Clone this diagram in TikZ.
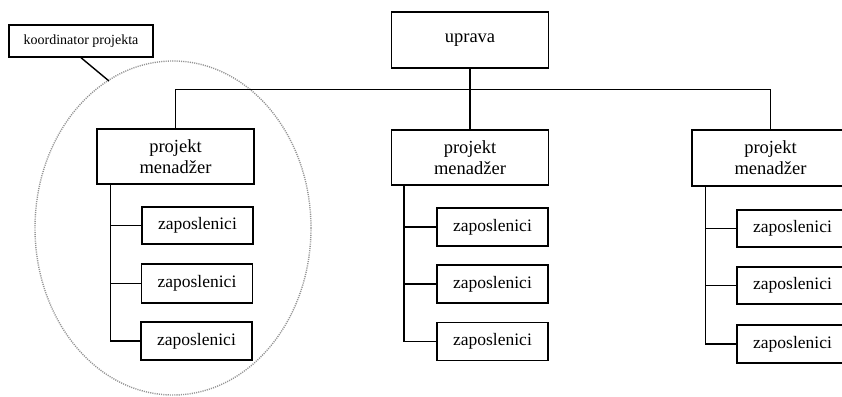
\documentclass[tikz,border=0pt]{standalone}
\usepackage{fontspec}
\setmainfont{Liberation Serif}
\begin{document}
\begin{tikzpicture}[x=1pt,y=-1pt,
  box/.style={draw, line width=1.4pt, rectangle, inner sep=0pt, anchor=center, align=center},
  pmbox/.style={box, minimum width=157pt, minimum height=55pt, font=\fontsize{18.5}{21}\selectfont},
  empbox/.style={box, minimum width=111pt, minimum height=38pt, font=\fontsize{17.5}{20}\selectfont},
  conn/.style={line width=1.4pt},
  ell/.style={draw=gray!85, line width=1.4pt, dash pattern=on 1.1pt off 1.1pt}]
\useasboundingbox (0,0) rectangle (842,396);
\clip (0,0) rectangle (842,396);
% ellipse
\draw[ell] (173,228) ellipse [x radius=138pt, y radius=167pt];
% boxes
\node[box, minimum width=144pt, minimum height=32pt, font=\fontsize{14}{16}\selectfont] (koord) at (81,41) {koordinator projekta};
\coordinate (ellpt) at (109,81);
\node[box, minimum width=157pt, minimum height=56pt, font=\fontsize{18.5}{21}\selectfont] (uprava) at (470,40) {uprava};
\node[pmbox] (pmL) at (175.5,156.5) {projekt\\menadžer};
\node[pmbox] (pmM) at (470,157.5) {projekt\\menadžer};
\node[pmbox, minimum height=56pt] (pmR) at (770.5,158) {projekt\\menadžer};
\node[empbox, minimum height=37pt] (L1) at (197.5,225.5) {zaposlenici};
\node[empbox, minimum height=39pt] (L2) at (197,283.5) {zaposlenici};
\node[empbox] (L3) at (196.5,341) {zaposlenici};
\node[empbox] (M1) at (492.5,227) {zaposlenici};
\node[empbox] (M2) at (492.5,284) {zaposlenici};
\node[empbox] (M3) at (492.5,341.5) {zaposlenici};
\node[empbox, minimum height=37pt] (R1) at (792.5,228.5) {zaposlenici};
\node[empbox, minimum height=37pt] (R2) at (792.5,285.5) {zaposlenici};
\node[empbox] (R3) at (792.5,344) {zaposlenici};
% connectors
\draw[conn] (koord.south) -- (ellpt);
\draw[conn] (uprava.south) -- (pmM.north);
\draw[conn] (pmL.north) -- ++(0,-39) -| (pmR.north);
\coordinate (tL) at ([xshift=14pt]pmL.south west);
\coordinate (tM) at ([xshift=13pt]pmM.south west);
\coordinate (tR) at ([xshift=14pt]pmR.south west);
\draw[conn] (tL) |- (L3.west);
\draw[conn] (L1.west) -- (L1.west -| tL);
\draw[conn] (L2.west) -- (L2.west -| tL);
\draw[conn] (tM) |- (M3.west);
\draw[conn] (M1.west) -- (M1.west -| tM);
\draw[conn] (M2.west) -- (M2.west -| tM);
\draw[conn] (tR) |- (R3.west);
\draw[conn] (R1.west) -- (R1.west -| tR);
\draw[conn] (R2.west) -- (R2.west -| tR);
\end{tikzpicture}
\end{document}
